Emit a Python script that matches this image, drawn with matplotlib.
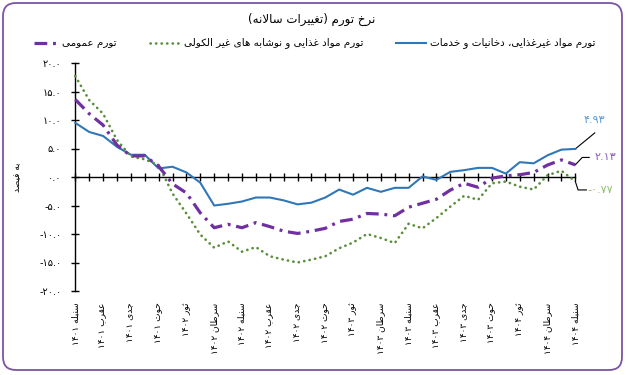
import numpy as np
import matplotlib
matplotlib.use('Agg')
import matplotlib.pyplot as plt
from matplotlib.lines import Line2D
from matplotlib.patches import FancyBboxPatch

plt.rcParams['font.family'] = ['DejaVu Sans']

# inflation series, annual change in percent (monthly, سنبله ۱۴۰۱ .. سنبله ۱۴۰۴)
general = [13.6, 11.1, 9.1, 5.6, 3.7, 3.7, 1.9, -1.2, -2.8, -6.3, -8.9, -8.3, -8.9,
           -8.0, -8.7, -9.5, -9.9, -9.5, -9.0, -7.8, -7.4, -6.4, -6.5, -6.8, -5.3,
           -4.6, -3.9, -2.3, -1.1, -1.8, -0.2, 0.2, 0.4, 0.8, 2.1, 3.0, 2.13]
food = [17.7, 13.5, 11.1, 6.5, 3.6, 3.1, 2.1, -2.9, -6.4, -10.1, -12.4, -11.3, -13.1,
        -12.3, -13.9, -14.5, -15.0, -14.5, -13.9, -12.5, -11.5, -10.0, -10.7, -11.6,
        -8.2, -9.0, -7.2, -5.2, -3.3, -4.0, -1.1, -0.8, -1.7, -2.2, 0.3, 1.1, -0.77]
nonfood = [9.5, 7.9, 7.2, 5.3, 3.9, 3.9, 1.5, 1.8, 0.8, -1.0, -5.0, -4.7, -4.3, -3.6,
           -3.6, -4.1, -4.8, -4.5, -3.6, -2.2, -3.1, -1.9, -2.6, -1.9, -1.9, 0.1, -0.5,
           0.9, 1.2, 1.6, 1.6, 0.6, 2.6, 2.4, 3.8, 4.8, 4.93]

# every second month is labelled
month_labels = ["سنبله ۱۴۰۱", "عقرب ۱۴۰۱", "جدی ۱۴۰۱", "حوت ۱۴۰۱", "ثور ۱۴۰۲",
                "سرطان ۱۴۰۲", "سنبله ۱۴۰۲", "عقرب ۱۴۰۲", "جدی ۱۴۰۲", "حوت ۱۴۰۲",
                "ثور ۱۴۰۳", "سرطان ۱۴۰۳", "سنبله ۱۴۰۳", "عقرب ۱۴۰۳", "جدی ۱۴۰۳",
                "حوت ۱۴۰۳", "ثور ۱۴۰۴", "سرطان ۱۴۰۴", "سنبله ۱۴۰۴"]
yticks = [-20, -15, -10, -5, 0, 5, 10, 15, 20]

title = "نرخ تورم (تغییرات سالانه)"
name_general = "تورم عمومی"
name_food = "تورم مواد غذایی و نوشابه های غیر الکولی"
name_nonfood = "تورم مواد غیرغذایی، دخانیات و خدمات"
ylab = "به فیصد"


# matplotlib does no arabic shaping, so pick presentation forms by hand
DUAL = {'ب': 0xFE8F, 'ت': 0xFE95, 'ث': 0xFE99, 'ج': 0xFE9D, 'ح': 0xFEA1, 'خ': 0xFEA5,
        'س': 0xFEB1, 'ش': 0xFEB5, 'ص': 0xFEB9, 'ض': 0xFEBD, 'ط': 0xFEC1, 'ظ': 0xFEC5,
        'ع': 0xFEC9, 'غ': 0xFECD, 'ف': 0xFED1, 'ق': 0xFED5, 'ل': 0xFEDD, 'م': 0xFEE1,
        'ن': 0xFEE5, 'ه': 0xFEE9, 'ي': 0xFEF1, 'ک': 0xFB8E, 'ی': 0xFBFC}
RIGHT = {'ا': 0xFE8D, 'د': 0xFEA9, 'ذ': 0xFEAB, 'ر': 0xFEAD, 'ز': 0xFEAF, 'و': 0xFEED}
DIGITS = str.maketrans('0123456789', '۰۱۲۳۴۵۶۷۸۹')


def shape(s):
    out = []
    i = 0
    while i < len(s):
        c = s[i]
        prev = s[i - 1] if i > 0 else ''
        nxt = s[i + 1] if i + 1 < len(s) else ''
        p = prev in DUAL
        if c == 'ل' and nxt == 'ا':
            out.append('\uFEFC' if p else '\uFEFB')
            i += 2
            continue
        if c in DUAL:
            q = nxt in DUAL or nxt in RIGHT
            k = 3 if (p and q) else 1 if p else 2 if q else 0
            out.append(chr(DUAL[c] + k))
        elif c in RIGHT:
            out.append(chr(RIGHT[c] + (1 if p else 0)))
        else:
            out.append(c)
        i += 1
    return ''.join(out)


def fa(s):
    s = shape(s)
    runs = []
    for c in s:
        ltr = c.isdigit() or c == '.'
        if runs and runs[-1][0] == ltr:
            runs[-1][1].append(c)
        else:
            runs.append([ltr, [c]])
    mirror = {'(': ')', ')': '('}
    parts = []
    for ltr, chars in reversed(runs):
        if ltr:
            parts.append(''.join(chars))
        else:
            parts.append(''.join(mirror.get(c, c) for c in reversed(chars)))
    return ''.join(parts)


def fa_num(v, fmt='%.1f'):
    return (fmt % v).translate(DIGITS)


W, H = 628, 375
fig = plt.figure(figsize=(W / 100, H / 100), dpi=100)

border = FancyBboxPatch((0.03, 0.05), 6.19, 3.67, boxstyle='round,pad=0,rounding_size=0.13',
                        transform=fig.dpi_scale_trans, facecolor='none',
                        edgecolor='#7b55a0', linewidth=1.3, zorder=0)
fig.patches.append(border)

ax = fig.add_axes([75.3 / W, 84 / H, 500 / W, 228 / H])
ax.patch.set_visible(False)

c_gen = '#7030a0'
c_food = '#5a8f3a'
c_non = '#3077b8'
gen_dash = (0, (4.0, 1.8, 0.9, 1.8))
food_dot = (0, (0.1, 2.0))

x = np.arange(len(general))
ax.plot(x, nonfood, color=c_non, lw=1.5, clip_on=False, zorder=3)
ax.plot(x, food, color=c_food, lw=1.9, linestyle=food_dot,
        dash_capstyle='round', clip_on=False, zorder=3)
ax.plot(x, general, color=c_gen, lw=2.3, linestyle=gen_dash,
        clip_on=False, zorder=3)

ax.set_xlim(0, len(general) - 1)
ax.set_ylim(-20, 20)
for s in ['top', 'right']:
    ax.spines[s].set_visible(False)
ax.spines['bottom'].set_position(('data', 0))
ax.spines['left'].set_linewidth(1.0)
ax.spines['bottom'].set_linewidth(1.0)

ax.set_xticks(x)
ax.tick_params(axis='x', direction='inout', length=6, width=1, labelbottom=False)
ax.set_yticks(yticks)
ax.set_yticklabels([fa_num(v) for v in yticks])
ax.tick_params(axis='y', direction='inout', length=6, width=1, pad=7, labelsize=7)

for k, lab in enumerate(month_labels):
    ax.text(x[2 * k], -0.05, fa(lab), rotation=90, ha='center', va='top',
            fontsize=6.5, transform=ax.get_xaxis_transform())

ax.text(-0.115, 0.5, fa(ylab), rotation=90, ha='center', va='center', fontsize=6.5,
        transform=ax.transAxes)

# end-of-series callouts
xe = x[-1]
ax.plot([xe, xe + 1.4], [nonfood[-1], nonfood[-1] + 2.8], color='black', lw=0.8, clip_on=False)
ax.text(xe + 1.4, nonfood[-1] + 5.1, fa_num(nonfood[-1], '%.2f'), color='#5b9bd5',
        fontsize=8, ha='center', va='center')
ax.plot([xe, xe + 0.5, xe + 1.0], [general[-1], general[-1] + 1.3, general[-1] + 1.3],
        color='black', lw=0.8, clip_on=False)
ax.text(xe + 1.4, general[-1] + 1.3, fa_num(general[-1], '%.2f'), color='#8e5cb8',
        fontsize=8, ha='left', va='center')
ax.plot([xe, xe + 0.2, xe + 0.8], [food[-1], food[-1] - 1.5, food[-1] - 1.5],
        color='black', lw=0.8, clip_on=False)
ax.text(xe + 0.9, food[-1] - 1.5, fa_num(food[-1], '%.2f'),
        color='#8fbc6f', fontsize=8, ha='left', va='center')

fig.text(312 / W, 1 - 19 / H, fa(title), ha='center', va='center', fontsize=8.5)

# legend row, drawn by hand (swatch left of each entry)
ly = 1 - 43 / H
entries = [(34, 58, 62, name_general, dict(color=c_gen, lw=2.3, linestyle=gen_dash)),
           (150, 180, 184, name_food, dict(color=c_food, lw=1.9, linestyle=food_dot,
                                             dash_capstyle='round')),
           (396, 426, 430, name_nonfood, dict(color=c_non, lw=1.5))]
for x0, x1, xt, name, style in entries:
    fig.add_artist(Line2D([x0 / W, x1 / W], [ly, ly], transform=fig.transFigure, **style))
    fig.text(xt / W, ly, fa(name), ha='left', va='center', fontsize=7.5)

fig.savefig('out.png', dpi=100)
